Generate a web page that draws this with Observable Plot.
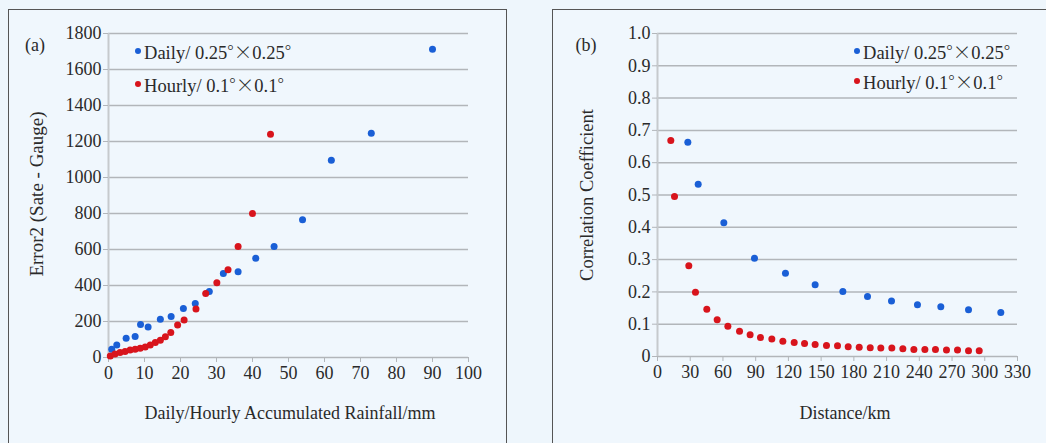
<!DOCTYPE html>
<html>
<head>
<meta charset="utf-8">
<script src="https://cdn.jsdelivr.net/npm/d3@7"></script>
<script src="https://cdn.jsdelivr.net/npm/@observablehq/plot@0.6"></script>
<style>
  html, body { margin: 0; padding: 0; background: #eef6fc; width: 1046px; height: 443px; overflow: hidden; }
  body { position: relative; font-family: "Liberation Serif", "Times New Roman", serif; color: #2a2a2a; }
  .panel { position: absolute; border: 1.5px solid #555; box-sizing: border-box; background: #f0f7fd; }
  .abs { position: absolute; white-space: nowrap; font-size: 18px; color: #2a2a2a; }
  .c { transform: translate(-50%, -50%); }
  .rot { transform: translate(-50%, -50%) rotate(-90deg); }
  .leg { position: absolute; white-space: nowrap; font-size: 18.5px; color: #2a2a2a; transform: translateY(-50%); display: flex; align-items: center; }
  .leg i { display: inline-block; width: 6px; height: 6px; border-radius: 50%; margin-right: 3px; }
  .leg .cjk { font-family: "Noto Sans CJK SC", "Liberation Serif", serif; font-weight: 300; }
  .chart { position: absolute; }
  .chart svg text { font-family: "Liberation Serif", "Times New Roman", serif !important; }
</style>
</head>
<body>
<div class="panel" style="left:8px; top:9px; width:499px; height:450px;"></div>
<div class="panel" style="left:552px; top:9px; width:520px; height:450px;"></div>
<div id="chartA" class="chart" style="left:8px; top:9px;"></div>
<div id="chartB" class="chart" style="left:552px; top:9px;"></div>

<div class="abs c" style="left:35px; top:45px;">(a)</div>
<div class="abs c" style="left:586px; top:45px;">(b)</div>
<div class="abs rot" style="left:37px; top:194px; font-size:19px;">Error2 (Sate - Gauge)</div>
<div class="abs c" style="left:290px; top:413px;">Daily/Hourly Accumulated Rainfall/mm</div>
<div class="abs rot" style="left:587px; top:195px; font-size:18.5px;">Correlation Coefficient</div>
<div class="abs c" style="left:845px; top:413px;">Distance/km</div>

<div id="legA1" class="leg" style="left:135px; top:51px;"></div>
<div id="legA2" class="leg" style="left:135px; top:84px;"></div>
<div id="legB1" class="leg" style="left:854px; top:51px;"></div>
<div id="legB2" class="leg" style="left:854px; top:81px;"></div>

<script>
// ---------- data ----------
const seriesNames = ["Daily/ 0.25°×0.25°", "Hourly/ 0.1°×0.1°"];
const seriesColors = ["#1a5fd6", "#d8141c"];

// Panel (a): accumulated rainfall (mm) vs Error2
const aDailyX = [0.9, 2.3, 4.9, 7.4, 8.9, 11.0, 14.4, 17.4, 20.8, 24.1, 28.0, 31.9, 36.0, 40.9, 46.0, 53.9, 61.9, 73.0, 90.0];
const aDailyY = [46, 70, 107, 117, 183, 169, 213, 228, 272, 300, 367, 467, 476, 552, 617, 765, 1096, 1246, 1713];
const aHourlyX = [0.5, 1.8, 3.2, 4.6, 6.0, 7.4, 8.8, 10.2, 11.6, 13.0, 14.4, 15.8, 17.3, 19.2, 21.0, 24.3, 27.0, 30.1, 33.2, 36.0, 40.0, 45.0];
const aHourlyY = [9, 19, 28, 34, 41, 46, 52, 59, 70, 83, 96, 115, 139, 181, 208, 270, 356, 415, 487, 617, 800, 1240];
const aXTicks = [0, 10, 20, 30, 40, 50, 60, 70, 80, 90, 100];
const aYTicks = [0, 200, 400, 600, 800, 1000, 1200, 1400, 1600, 1800];

// Panel (b): distance (km) vs correlation coefficient
const bDailyX = [27.8, 37.3, 60.8, 88.9, 117.3, 144.5, 169.9, 192.5, 214.5, 238.3, 259.7, 285.1, 314.7];
const bDailyY = [0.663, 0.533, 0.414, 0.304, 0.258, 0.222, 0.201, 0.186, 0.172, 0.160, 0.154, 0.145, 0.136];
const bHourlyX = [12.2, 15.6, 28.7, 34.8, 45.2, 54.7, 64.5, 75.2, 84.9, 94.4, 104.8, 114.9, 125.3, 134.8, 144.5, 154.9, 165.0, 174.8, 184.9, 195.0, 204.7, 214.8, 224.9, 235.0, 245.1, 254.8, 264.9, 275.0, 285.1, 294.9];
const bHourlyY = [0.669, 0.495, 0.281, 0.199, 0.146, 0.114, 0.094, 0.078, 0.067, 0.059, 0.054, 0.047, 0.043, 0.040, 0.037, 0.034, 0.033, 0.030, 0.029, 0.027, 0.026, 0.026, 0.024, 0.022, 0.022, 0.022, 0.020, 0.020, 0.018, 0.018];
const bXTicks = [0, 30, 60, 90, 120, 150, 180, 210, 240, 270, 300, 330];
const bYTicks = [0, 0.1, 0.2, 0.3, 0.4, 0.5, 0.6, 0.7, 0.8, 0.9, 1.0];

// ---------- build tables ----------
const zip = (xs, ys, s) => xs.map((x, i) => ({x, y: ys[i], s}));
const aData = [...zip(aDailyX, aDailyY, seriesNames[0]), ...zip(aHourlyX, aHourlyY, seriesNames[1])];
const bData = [...zip(bDailyX, bDailyY, seriesNames[0]), ...zip(bHourlyX, bHourlyY, seriesNames[1])];

const serif = "Liberation Serif";
const gridColor = "#b2b6ba";
const axisColor = "#c6cacd";
const style = {background: "transparent", fontFamily: serif, fontSize: "18px", color: "#2a2a2a", overflow: "visible"};
const color = {domain: seriesNames, range: seriesColors};

const chartA = Plot.plot({
  width: 498, height: 434,
  marginLeft: 100, marginRight: 38, marginTop: 24, marginBottom: 86,
  style,
  x: {domain: [0, 100]},
  y: {domain: [0, 1800]},
  color,
  marks: [
    Plot.gridY(aYTicks, {stroke: gridColor, strokeOpacity: 1, strokeWidth: 1.5}),
    Plot.ruleX([0], {stroke: axisColor, strokeWidth: 2}),
    Plot.axisX(aXTicks, {tickSize: 5, tickPadding: 4, stroke: gridColor, label: null, fontFamily: serif, fontSize: 18, tickFormat: d => String(d)}),
    Plot.axisY(aYTicks, {tickSize: 5, tickPadding: 2, stroke: gridColor, label: null, fontFamily: serif, fontSize: 18, tickFormat: d => String(d)}),
    Plot.dot(aData, {x: "x", y: "y", fill: "s", r: 3.5})
  ]
});
document.getElementById("chartA").appendChild(chartA);

const chartB = Plot.plot({
  width: 494, height: 434,
  marginLeft: 105, marginRight: 29, marginTop: 24, marginBottom: 87,
  style,
  x: {domain: [0, 330]},
  y: {domain: [0, 1]},
  color,
  marks: [
    Plot.gridY(bYTicks, {stroke: gridColor, strokeOpacity: 1, strokeWidth: 1.5}),
    Plot.ruleX([0], {stroke: axisColor, strokeWidth: 2}),
    Plot.axisX(bXTicks, {tickSize: 5, tickPadding: 4, stroke: gridColor, label: null, fontFamily: serif, fontSize: 18, tickFormat: d => String(d)}),
    Plot.axisY(bYTicks, {tickSize: 5, tickPadding: 2, stroke: gridColor, label: null, fontFamily: serif, fontSize: 18, tickFormat: d => d === 0 ? "0" : d.toFixed(1)}),
    Plot.dot(bData, {x: "x", y: "y", fill: "s", r: 3.5})
  ]
});
document.getElementById("chartB").appendChild(chartB);

// legends (° and × drawn with a CJK font, as in the original figure)
const legend = (id, i) => {
  const el = document.getElementById(id);
  const dot = document.createElement("i");
  dot.style.background = seriesColors[i];
  el.appendChild(dot);
  const span = document.createElement("span");
  for (const ch of seriesNames[i]) {
    if (ch === "°" || ch === "×") {
      const s = document.createElement("span");
      s.className = "cjk";
      s.textContent = ch;
      span.appendChild(s);
    } else {
      span.appendChild(document.createTextNode(ch));
    }
  }
  el.appendChild(span);
};
legend("legA1", 0); legend("legA2", 1);
legend("legB1", 0); legend("legB2", 1);
</script>
</body>
</html>
